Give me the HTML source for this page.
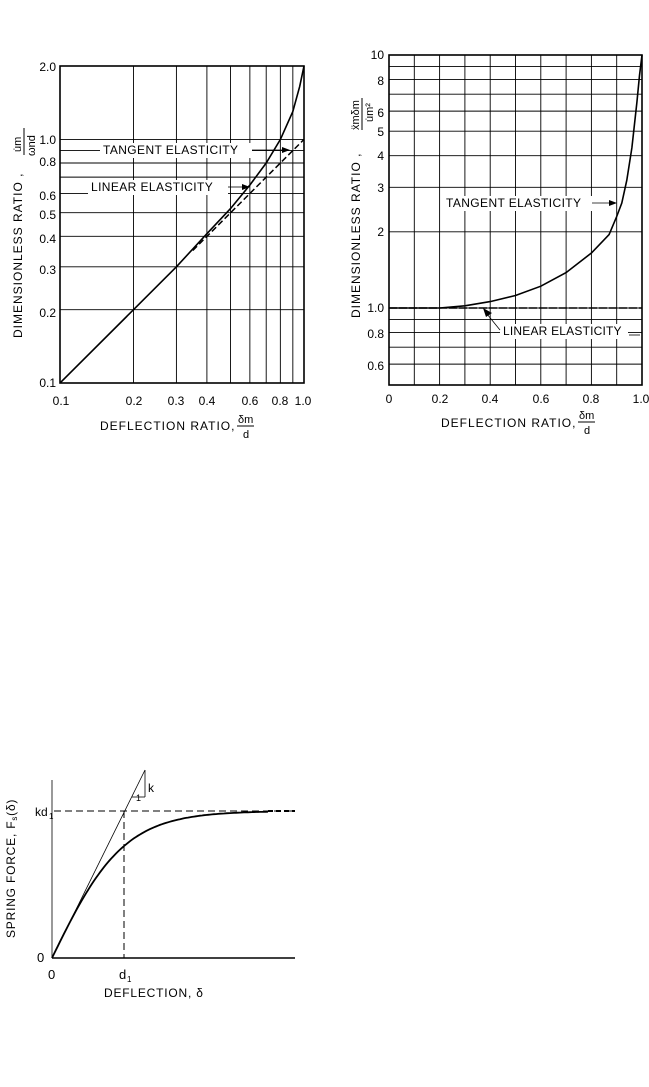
<!DOCTYPE html>
<html><head><meta charset="utf-8"><style>
html,body{margin:0;padding:0;background:#fff}
svg{display:block}
text{font-family:"Liberation Sans",sans-serif;fill:#000}
</style></head><body>
<svg id="s" width="649" height="1087" viewBox="0 0 649 1087" xmlns="http://www.w3.org/2000/svg">
<g id="g" stroke="#000" fill="none"></g>
<g font-size="12">
<text x="56" y="71" text-anchor="end">2.0</text>
<text x="56" y="144" text-anchor="end">1.0</text>
<text x="56" y="166" text-anchor="end">0.8</text>
<text x="56" y="200" text-anchor="end">0.6</text>
<text x="56" y="219" text-anchor="end">0.5</text>
<text x="56" y="243" text-anchor="end">0.4</text>
<text x="56" y="274" text-anchor="end">0.3</text>
<text x="56" y="317" text-anchor="end">0.2</text>
<text x="56" y="387" text-anchor="end">0.1</text>
<text x="61" y="405" text-anchor="middle">0.1</text>
<text x="134" y="405" text-anchor="middle">0.2</text>
<text x="176" y="405" text-anchor="middle">0.3</text>
<text x="207" y="405" text-anchor="middle">0.4</text>
<text x="250" y="405" text-anchor="middle">0.6</text>
<text x="280" y="405" text-anchor="middle">0.8</text>
<text x="303" y="405" text-anchor="middle">1.0</text>
<text x="100" y="430" letter-spacing="1">DEFLECTION RATIO,</text>
<text x="238" y="423" font-size="11">δm</text>
<line x1="237" y1="426" x2="254" y2="426" stroke="#000"/>
<text x="243" y="438" font-size="11">d</text>
<text transform="translate(22,338) rotate(-90)" letter-spacing="1">DIMENSIONLESS RATIO ,</text>
<text transform="translate(21,152) rotate(-90)" font-size="11">u̇m</text>
<line x1="24" y1="128" x2="24" y2="155" stroke="#000"/>
<text transform="translate(35,156) rotate(-90)" font-size="11">ωnd</text>
<text x="103" y="154" letter-spacing="0.4">TANGENT ELASTICITY</text>
<text x="91" y="191" letter-spacing="0.4">LINEAR ELASTICITY</text>
<text x="384" y="59" text-anchor="end">10</text>
<text x="384" y="85" text-anchor="end">8</text>
<text x="384" y="117" text-anchor="end">6</text>
<text x="384" y="136" text-anchor="end">5</text>
<text x="384" y="160" text-anchor="end">4</text>
<text x="384" y="192" text-anchor="end">3</text>
<text x="384" y="236" text-anchor="end">2</text>
<text x="384" y="312" text-anchor="end">1.0</text>
<text x="384" y="338" text-anchor="end">0.8</text>
<text x="384" y="370" text-anchor="end">0.6</text>
<text x="389" y="403" text-anchor="middle">0</text>
<text x="440" y="403" text-anchor="middle">0.2</text>
<text x="490" y="403" text-anchor="middle">0.4</text>
<text x="541" y="403" text-anchor="middle">0.6</text>
<text x="591" y="403" text-anchor="middle">0.8</text>
<text x="641" y="403" text-anchor="middle">1.0</text>
<text x="441" y="427" letter-spacing="1">DEFLECTION RATIO,</text>
<text x="579" y="419" font-size="11">δm</text>
<line x1="578" y1="422" x2="595" y2="422" stroke="#000"/>
<text x="584" y="434" font-size="11">d</text>
<text transform="translate(360,318) rotate(-90)" letter-spacing="1">DIMENSIONLESS RATIO ,</text>
<text transform="translate(359,130) rotate(-90)" font-size="11">ẍmδm</text>
<line x1="362" y1="98" x2="362" y2="130" stroke="#000"/>
<text transform="translate(373,122) rotate(-90)" font-size="11">u̇m²</text>
<text x="446" y="207" letter-spacing="0.4">TANGENT  ELASTICITY</text>
<text x="503" y="335" letter-spacing="0.2">LINEAR ELASTICITY</text>
<text x="35" y="816" font-size="12">kd</text><text x="49" y="819" font-size="8">1</text>
<text x="37" y="962" font-size="13">0</text>
<text x="48" y="979" font-size="13">0</text>
<text x="119" y="979" font-size="13">d</text><text x="127" y="982" font-size="8">1</text>
<text x="104" y="997" letter-spacing="0.8">DEFLECTION, δ</text>
<text x="148" y="792" font-size="12">k</text>
<text x="136" y="801" font-size="9">1</text>
<text transform="translate(15,938) rotate(-90)" letter-spacing="0.8">SPRING FORCE, F<tspan font-size="8" dy="2">s</tspan><tspan dy="-2">(δ)</tspan></text>
</g>
</svg>
<script>
var g=document.getElementById('g'),NS='http://www.w3.org/2000/svg';
function el(t,a){var e=document.createElementNS(NS,t);for(var k in a)e.setAttribute(k,a[k]);g.appendChild(e);return e;}
function L(x1,y1,x2,y2,w,da){el('line',{x1:x1,y1:y1,x2:x2,y2:y2,'stroke-width':w||1,'stroke-dasharray':da||'none'});}
function P(pts,w,da){el('path',{d:'M'+pts.map(p=>p[0].toFixed(1)+','+p[1].toFixed(1)).join('L'),'stroke-width':w,'stroke-dasharray':da||'none'});}
var lg=Math.log10;
var LX=v=>60+244*lg(v/0.1), LY=v=>383-243.6*lg(v/0.1);
[0.2,0.3,0.4,0.5,0.6,0.7,0.8,0.9].forEach(v=>L(LX(v),66,LX(v),383,0.9));
[0.2,0.3,0.4,0.5,0.6,0.7,0.8,0.9,1.0].forEach(v=>L(60,LY(v),304,LY(v),0.9));
el('rect',{x:60,y:66,width:244,height:317,'stroke-width':1.6});
el('rect',{x:100,y:143,width:152,height:15,fill:'#fff',stroke:'none'});
el('rect',{x:88,y:180,width:140,height:15,fill:'#fff',stroke:'none'});
var tl=[[0.1,0.1],[0.2,0.2],[0.3,0.3],[0.4,0.41],[0.5,0.52],[0.6,0.65],[0.7,0.8],[0.8,1.0],[0.9,1.3],[0.96,1.65],[1.0,2.0]];
P(tl.map(p=>[LX(p[0]),LY(p[1])]),1.6);
P([[LX(0.35),LY(0.35)],[LX(1),LY(1)]],1.5,'6,3');
L(252,150,282,150,0.8);el('path',{d:'M282,147L290,150L282,153Z',fill:'#000',stroke:'none'});
L(228,187,243,187,0.8);el('path',{d:'M242,184L250,187L242,190Z',fill:'#000',stroke:'none'});
var RX=v=>389+253*v, RY=v=>308-253*lg(v);
for(var i=1;i<10;i++)L(RX(i/10),55,RX(i/10),385,0.9);
[0.6,0.7,0.8,0.9,1,2,3,4,5,6,7,8,9].forEach(v=>L(389,RY(v),642,RY(v),0.9));
el('rect',{x:389,y:55,width:253,height:330,'stroke-width':1.6});
el('rect',{x:444,y:196,width:148,height:15,fill:'#fff',stroke:'none'});
el('rect',{x:500,y:324,width:128,height:15,fill:'#fff',stroke:'none'});
var tr=[[0,1],[0.2,1.0],[0.3,1.02],[0.4,1.06],[0.5,1.12],[0.6,1.22],[0.7,1.38],[0.8,1.65],[0.87,1.95],[0.9,2.3],[0.92,2.6],[0.94,3.2],[0.96,4.3],[0.98,6.5],[0.99,8.3],[1.0,10]];
P(tr.map(p=>[RX(p[0]),RY(p[1])]),1.6);
L(389,308,642,308,1.5,'8,2');
L(592,203,610,203,0.8);el('path',{d:'M609,200L617,203L609,206Z',fill:'#000',stroke:'none'});
L(500,330,487,314,0.8);el('path',{d:'M483,308L492,313L486,317Z',fill:'#000',stroke:'none'});
L(629,335,640,335,0.8);
L(52,780,52,958,0.8);L(52,958,295,958,1.6);
L(54,811,295,811,1,'7,4');L(124,811,124,958,1,'7,4');
L(52,958,145,770,0.8);L(132,797,145,797,0.8);L(145,770,145,797,0.8);
var bp=[];for(var x=52;x<=268;x+=2)bp.push([x,958-147*Math.tanh((x-52)/72)]);
P(bp,1.8);L(268,811,295,811,2,'5,3');
</script>
</body></html>
